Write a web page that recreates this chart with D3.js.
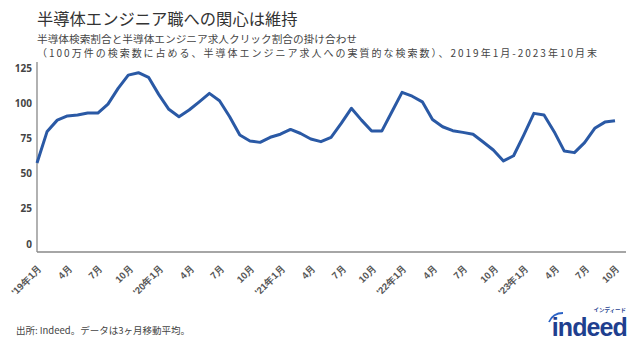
<!DOCTYPE html>
<html><head><meta charset="utf-8">
<script src="https://cdn.jsdelivr.net/npm/d3@7"></script>
<style>
html,body{margin:0;padding:0;background:#fff;}
svg{display:block;font-family:"Noto Sans CJK JP","Noto Sans",sans-serif;}
</style></head>
<body>
<svg id="c" width="640" height="357"></svg>
<script>
const title = "半導体エンジニア職への関心は維持";
const subtitle1 = "半導体検索割合と半導体エンジニア求人クリック割合の掛け合わせ";
const subtitle2 = "（100万件の検索数に占める、半導体エンジニア求人への実質的な検索数）、2019年1月-2023年10月末";
const source = "出所: Indeed。データは3ヶ月移動平均。";

// Monthly, Jan 2019 – Oct 2023
const months = d3.range(58);
const values = [57.5, 80, 88, 91, 91.6, 93, 93, 99.4, 110.6, 120, 121.7, 118.4,
  106.3, 95.7, 90.4, 95.2, 101, 107, 101.8, 90.4, 77.4, 73.2, 72.2, 75.8,
  78, 81.4, 78.5, 74.6, 72.7, 75.8, 85.7, 96.4, 88, 80.2, 80.2, 94,
  107.7, 105, 101, 88.5, 83.3, 80.5, 79.3, 78, 72.5, 66.8, 59, 62.7,
  77.4, 92.8, 91.6, 79.8, 66, 64.9, 72, 82.2, 86.6, 87.6];
const yTicks = [0, 25, 50, 75, 100, 125];
const tickLabels = ["'19年1月","4月","7月","10月","'20年1月","4月","7月","10月",
  "'21年1月","4月","7月","10月","'22年1月","4月","7月","10月",
  "'23年1月","4月","7月","10月"];

const svg = d3.select("#c");
const x = d3.scaleLinear().domain([0, 57]).range([37, 615]);
const y = d3.scaleLinear().domain([-5.7, 129.3]).range([252, 62]);

svg.append("text").attr("x", 37).attr("y", 24.5).attr("font-size", 16.3)
  .attr("fill", "#333").text(title);
svg.append("text").attr("x", 37).attr("y", 42.5).attr("font-size", 10)
  .attr("fill", "#444").attr("textLength", 320).attr("lengthAdjust", "spacingAndGlyphs")
  .text(subtitle1);
svg.append("text").attr("x", 37).attr("y", 56.5).attr("font-size", 10)
  .attr("fill", "#444").attr("textLength", 560).attr("lengthAdjust", "spacing")
  .text(subtitle2);

// y axis
const ya = svg.append("g").attr("transform", "translate(37,0)")
  .call(d3.axisLeft(y).tickValues(yTicks).tickSize(0).tickPadding(5));
ya.select(".domain").remove();
ya.selectAll("text").attr("font-size", 10).attr("font-weight", "bold")
  .attr("fill", "#444").attr("font-family", "'Noto Sans','Noto Sans CJK JP',sans-serif");

svg.append("line").attr("x1", 37).attr("x2", 37).attr("y1", 62).attr("y2", 252)
  .attr("stroke", "#888").attr("stroke-width", 1.3);
svg.append("line").attr("x1", 37).attr("x2", 626).attr("y1", 252).attr("y2", 252)
  .attr("stroke", "#888").attr("stroke-width", 1.3);

// x axis labels
const tickIdx = d3.range(0, 58, 3);
const xa = svg.append("g").attr("transform", "translate(0,252)")
  .call(d3.axisBottom(x).tickValues(tickIdx).tickSize(0)
    .tickFormat((d, i) => tickLabels[i]));
xa.select(".domain").remove();
xa.selectAll("text")
  .attr("font-size", 9.6).attr("font-weight", "bold").attr("fill", "#555")
  .attr("text-anchor", "end")
  .attr("dy", null).attr("y", null)
  .attr("transform", "translate(5,17) rotate(-45)");

// line
svg.append("path").datum(values)
  .attr("fill", "none").attr("stroke", "#2a59a5").attr("stroke-width", 3)
  .attr("stroke-linejoin", "round")
  .attr("d", d3.line().x((d, i) => x(months[i])).y(d => y(d)));

// footer
svg.append("text").attr("x", 16).attr("y", 334).attr("font-size", 9.5)
  .attr("fill", "#444").text(source);

// logo
const lg = svg.append("g");
lg.append("text").attr("x", 627).attr("y", 336).attr("text-anchor", "end")
  .attr("font-size", 25).attr("font-weight", "bold").attr("fill", "#1f3f8f")
  .attr("letter-spacing", -0.9).attr("font-family", "Arial,'Liberation Sans',sans-serif")
  .text("indeed");
lg.append("text").attr("x", 626).attr("y", 312).attr("text-anchor", "end")
  .attr("font-size", 5.5).attr("font-weight", "bold").attr("fill", "#1f3f8f")
  .text("インディード");
lg.append("path").attr("d", "M549,322 Q553,313 563,313")
  .attr("fill", "none").attr("stroke", "#2b63c6").attr("stroke-width", 1.8);
</script>
</body></html>
